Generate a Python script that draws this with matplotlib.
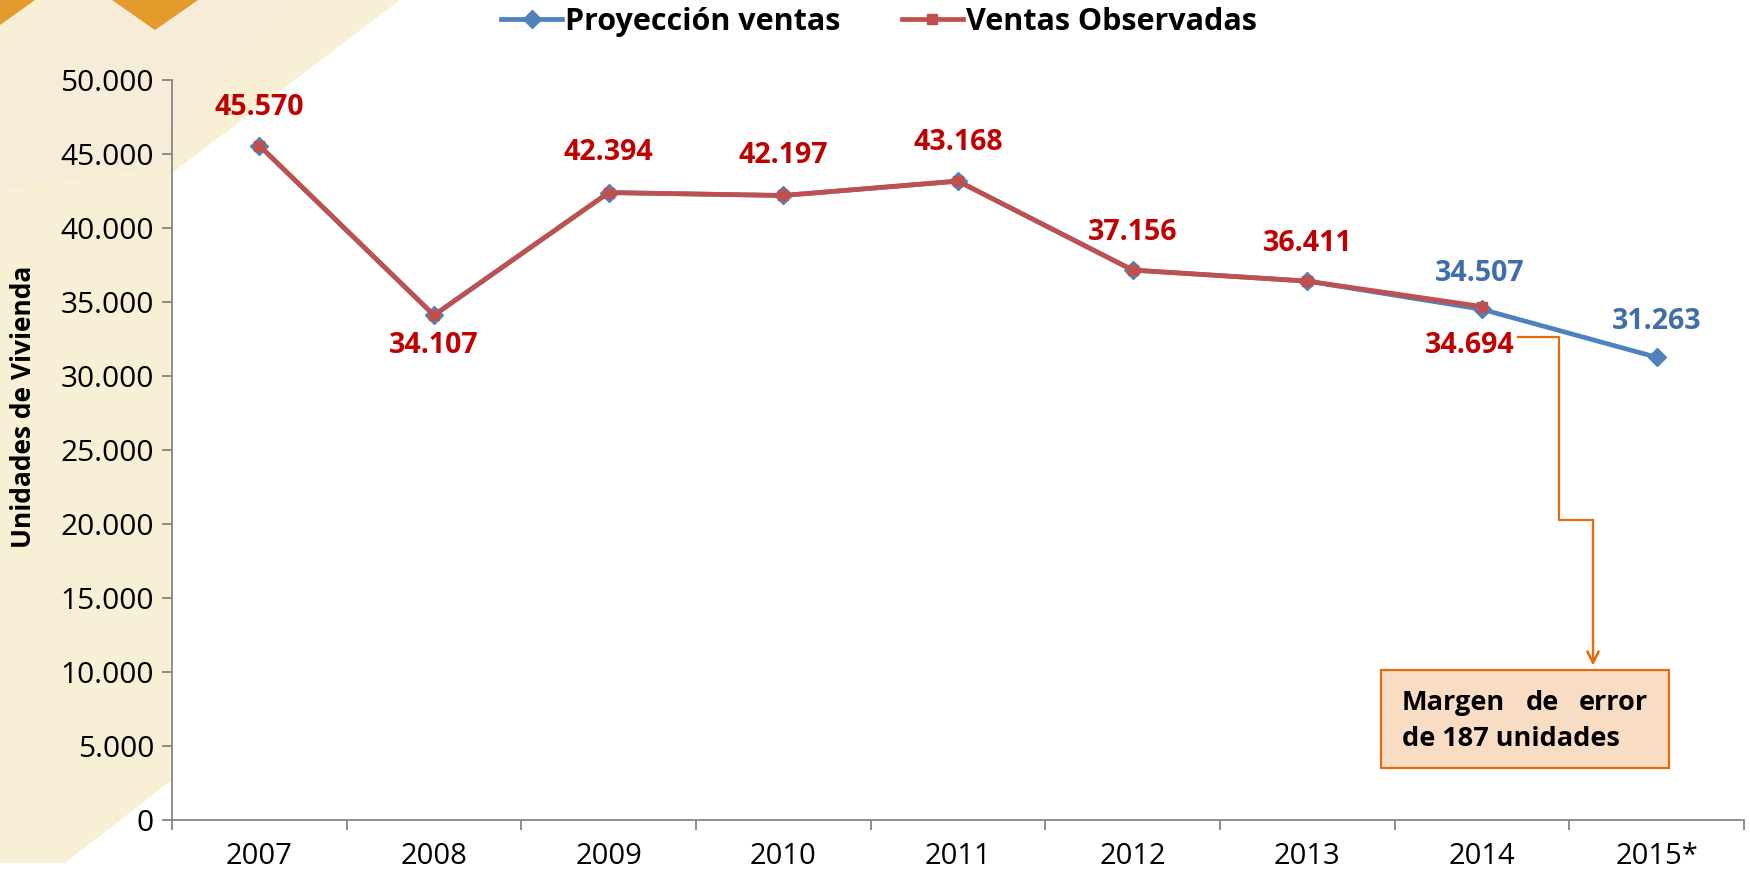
import matplotlib
matplotlib.use("Agg")
import matplotlib.pyplot as plt
from matplotlib.patches import Polygon, Rectangle
from matplotlib.lines import Line2D
from matplotlib.ticker import FuncFormatter, FixedLocator

plt.rcParams["font.family"] = ["Open Sans", "DejaVu Sans"]

# datos
years = ["2007", "2008", "2009", "2010", "2011", "2012", "2013", "2014", "2015*"]
proyeccion = [45570, 34107, 42394, 42197, 43168, 37156, 36411, 34507, 31263]
observadas = [45570, 34107, 42394, 42197, 43168, 37156, 36411, 34694]
margen_texto = ["Margen", "de", "error", "de 187 unidades"]

BLUE = "#4F81BD"
RED = "#C0504D"
RED_TXT = "#C00000"
BLUE_TXT = "#3F6EAA"
ORANGE = "#E46C0A"

W, H = 1750, 877


def fp(x, y):
    # pixel de la imagen -> fraccion de figura
    return (x / W, 1 - y / H)


def miles(v, pos=None):
    return f"{v:,.0f}".replace(",", ".")


fig = plt.figure(figsize=(W / 100, H / 100), dpi=100, facecolor="white")

# fondo decorativo (detras de los ejes)
crema = [(0, 0), (400, 0), (172, 173), (172, 780), (65, 863), (0, 863)]
fig.patches.append(Polygon([fp(*p) for p in crema], closed=True, transform=fig.transFigure,
                           facecolor="#F8F0D4", edgecolor="none", zorder=-10))
banda = [(0, 45), (45, 0), (300, 0), (172, 130), (172, 165), (0, 190)]
fig.patches.append(Polygon([fp(*p) for p in banda], closed=True, transform=fig.transFigure,
                           facecolor="#F6ECD7", edgecolor="none", zorder=-9))
for tri in ([(0, 0), (35, 0), (0, 25)], [(112, 0), (198, 0), (155, 30)]):
    fig.patches.append(Polygon([fp(*p) for p in tri], closed=True, transform=fig.transFigure,
                               facecolor="#E39B2C", edgecolor="none", zorder=-8))

l, b = fp(172, 820)
r, t = fp(1744, 80)
ax = fig.add_axes([l, b, r - l, t - b])
ax.set_facecolor("none")

x = list(range(len(years)))
ax.plot(x, proyeccion, color=BLUE, lw=3.4, marker="D", ms=9, label="Proyección ventas", zorder=3)
ax.plot(x[:len(observadas)], observadas, color=RED, lw=3.4, marker="s", ms=7.5, label="Ventas Observadas", zorder=4)

ax.set_xlim(-0.5, len(years) - 0.5)
ax.set_ylim(0, 50000)
ax.set_yticks(range(0, 50001, 5000))
ax.yaxis.set_major_formatter(FuncFormatter(miles))
ax.set_xticks(x)
ax.set_xticklabels(years)
ax.xaxis.set_minor_locator(FixedLocator([i - 0.5 for i in range(len(years) + 1)]))
ax.tick_params(axis="x", which="major", length=0, pad=16, labelsize=21)
ax.tick_params(axis="x", which="minor", length=7, color="#868686", width=1.3, direction="out")
ax.tick_params(axis="y", length=7, color="#868686", width=1.3, labelsize=21.5, pad=6)
for s in ["top", "right"]:
    ax.spines[s].set_visible(False)
for s in ["left", "bottom"]:
    ax.spines[s].set_color("#868686")
    ax.spines[s].set_linewidth(1.3)

# etiquetas de datos
obs_off = [(0, 38), (0, -30), (0, 40), (0, 40), (0, 39), (0, 38), (0, 38), (-12, -39)]
for i, v in enumerate(observadas):
    ax.annotate(miles(v), (x[i], v), xytext=obs_off[i], textcoords="offset pixels",
                ha="center", va="center", color=RED_TXT, fontsize=20.5, fontweight="bold", zorder=6)
proy_off = {7: (-2, 36), 8: (0, 36)}
for i, off in proy_off.items():
    ax.annotate(miles(proyeccion[i]), (x[i], proyeccion[i]), xytext=off, textcoords="offset pixels",
                ha="center", va="center", color=BLUE_TXT, fontsize=20.5, fontweight="bold", zorder=6)

fig.text(*fp(24, 407), "Unidades de Vivienda", rotation=90, ha="center", va="center",
         fontsize=19, fontweight="bold")

fig.legend(loc="center", bbox_to_anchor=fp(879, 22), ncol=2, frameon=False,
           prop={"size": 22, "weight": "bold"}, handlelength=2.0, handletextpad=0.1,
           columnspacing=2.0)

# conector naranja y cuadro del margen de error
conector = [(1518, 337), (1559, 337), (1559, 520), (1593, 520)]
fig.lines.append(Line2D([fp(*p)[0] for p in conector], [fp(*p)[1] for p in conector],
                        transform=fig.transFigure, color=ORANGE, lw=1.6, zorder=5))
fig.add_artist(plt.annotate("", xy=fp(1593, 668), xytext=fp(1593, 519), xycoords="figure fraction",
                            textcoords="figure fraction",
                            arrowprops=dict(arrowstyle="->,head_length=0.8,head_width=0.4",
                                            color=ORANGE, lw=1.6)))
bx0, by0 = fp(1381, 768)
bx1, by1 = fp(1669, 670)
fig.patches.append(Rectangle((bx0, by0), bx1 - bx0, by1 - by0, transform=fig.transFigure,
                             facecolor="#F8DCC4", edgecolor=ORANGE, lw=1.6, zorder=5))
fig.text(*fp(1402, 703), margen_texto[0], ha="left", va="center", fontsize=19.5, fontweight="bold", zorder=6)
fig.text(*fp(1542, 703), margen_texto[1], ha="center", va="center", fontsize=19.5, fontweight="bold", zorder=6)
fig.text(*fp(1648, 703), margen_texto[2], ha="right", va="center", fontsize=19.5, fontweight="bold", zorder=6)
fig.text(*fp(1402, 739), margen_texto[3], ha="left", va="center", fontsize=19.5, fontweight="bold", zorder=6)

fig.savefig("out.png", dpi=100, facecolor=fig.get_facecolor())
